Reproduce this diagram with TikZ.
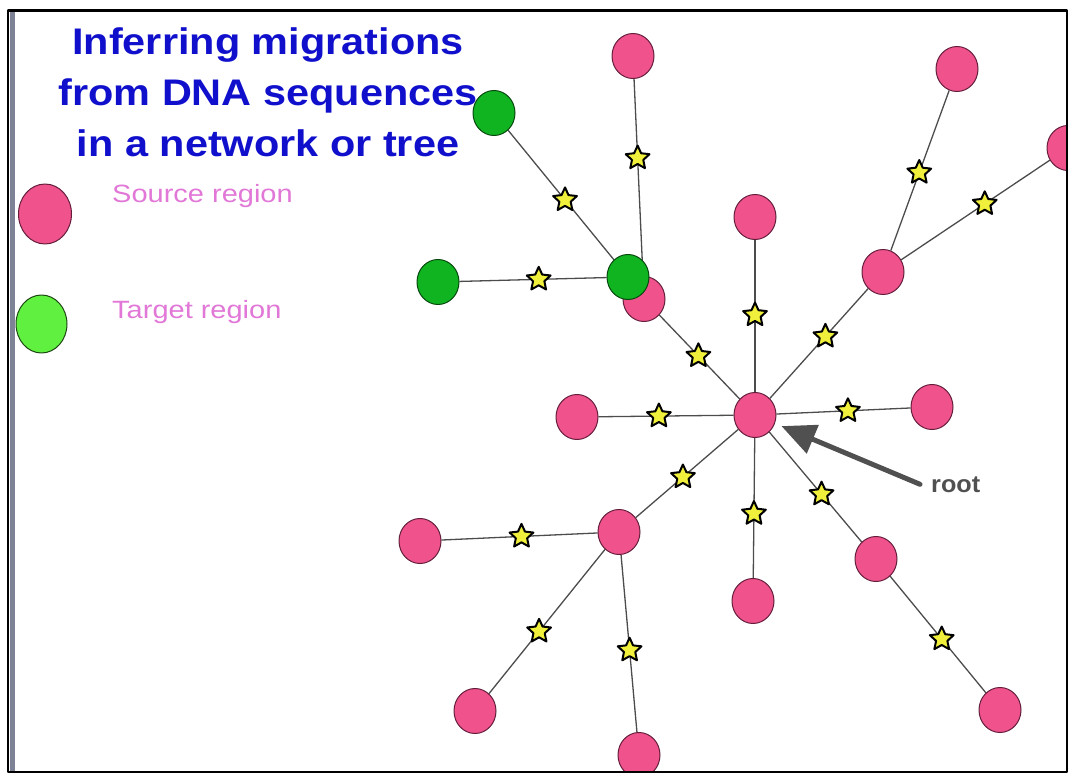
\documentclass[tikz,border=0pt]{standalone}
\usepackage{fontspec}
\setmainfont{Liberation Sans}
\usetikzlibrary{arrows.meta,shapes.geometric,calc,backgrounds}
\definecolor{nodepink}{RGB}{240,82,140}
\definecolor{nodeline}{RGB}{100,30,60}
\definecolor{treegreen}{RGB}{16,180,32}
\definecolor{keygreen}{RGB}{96,240,64}
\definecolor{titleblue}{RGB}{16,16,204}
\definecolor{keytext}{RGB}{225,120,215}
\definecolor{mutyellow}{RGB}{240,240,60}
\definecolor{arrowgrey}{RGB}{80,80,80}
\definecolor{framegrey}{RGB}{125,130,150}

\begin{document}
\begin{tikzpicture}[line cap=round,line join=round,x=1pt,y=-1pt,
        src/.style={ellipse,draw=nodeline,fill=nodepink,line width=1pt,minimum width=42pt,minimum height=45pt,inner sep=0pt},
        tgt/.style={src,fill=treegreen,draw=black!60!treegreen},
        mut/.style={star,star points=5,star point ratio=2.1,draw=black,line width=2pt,fill=mutyellow,minimum size=25pt,inner sep=0pt},
        link/.style={line width=1.3pt,color=black!70},
        keylabel/.style={font=\fontsize{25}{30}\selectfont,text=keytext,inner sep=0pt,anchor=base west}]
                \useasboundingbox (0,0) rectangle (1072,781);
                \node [font=\fontsize{37}{51}\selectfont\bfseries,text=titleblue,align=center,anchor=base,inner sep=0pt] (title) at (268,157) {\scalebox{1.12}[1]{Inferring migrations}\\\scalebox{1.12}[1]{from DNA sequences}\\\scalebox{1.12}[1]{in a network or tree}};
                \node [src,minimum width=53pt,minimum height=60pt] (keysrc) at (45,214) {};
                \node [tgt,fill=keygreen,draw=black!70!keygreen,minimum width=51pt,minimum height=58pt] (keytgt) at (41.5,324) {};
                \node [keylabel] (srclbl) at (112,203) {\scalebox{1.16}[1]{Source region}};
                \node [keylabel] (tgtlbl) at (112,318) {\scalebox{1.16}[1]{Target region}};
                \begin{scope}
                    \clip (9.5,11.8) rectangle (1065.8,770.8);
                    \node [src] (root) at (755,415) {};
                    \node [src] (p1) at (633,56) {};
                    \node [src] (p2) at (957,69) {};
                    \node [src] (p3) at (883,272) {};
                    \node [src] (p4) at (1068,148) {};
                    \node [src] (p5) at (755,217) {};
                    \node [src] (p6) at (644,299) {};
                    \node [src] (p7) at (577,417) {};
                    \node [src] (p8) at (932,407) {};
                    \node [src] (p9) at (619,532) {};
                    \node [src] (p10) at (420,541) {};
                    \node [src] (p11) at (475,711) {};
                    \node [src] (p12) at (639,755) {};
                    \node [src] (p13) at (753,601) {};
                    \node [src] (p14) at (876,559) {};
                    \node [src] (p15) at (1000,710) {};
                    \node [tgt] (g1) at (628,277) {};
                    \node [tgt] (g2) at (494,113) {};
                    \node [tgt] (g3) at (438,282) {};
                \end{scope}
                \foreach \a/\b/\t [count=\i] in {root/p6/0.51,p6/p1/0.58,g1/g2/0.47,g1/g3/0.47,root/p5/0.505,root/p3/0.55,p3/p2/0.49,p3/p4/0.55,root/p7/0.54,root/p8/0.525,root/p9/0.53,p9/p10/0.49,p9/p11/0.555,p9/p12/0.53,root/p13/0.53,root/p14/0.55,p14/p15/0.53}{
                    \begin{scope}[on background layer]
                        \draw [link] (\a) -- (\b);
                    \end{scope}
                    \node [mut] (s\i) at ($(\a)!\t!(\b)$) {};
                }
                \node [font=\fontsize{24}{28}\selectfont\bfseries,text=arrowgrey,anchor=base west,inner ysep=0pt,inner xsep=11pt] (rootlbl) at (920,492) {\scalebox{1.05}[1]{root}};
                \draw [-{Triangle[length=34pt,width=30pt]},line width=5pt,color=arrowgrey,shorten >=7pt] (rootlbl.west) -- (root);
                \fill [framegrey] (9.5,11.5) rectangle (14.5,771);
                \draw [line width=2.5pt] (8,10.5) rectangle (1067,772);
            \end{tikzpicture}
\end{document}
